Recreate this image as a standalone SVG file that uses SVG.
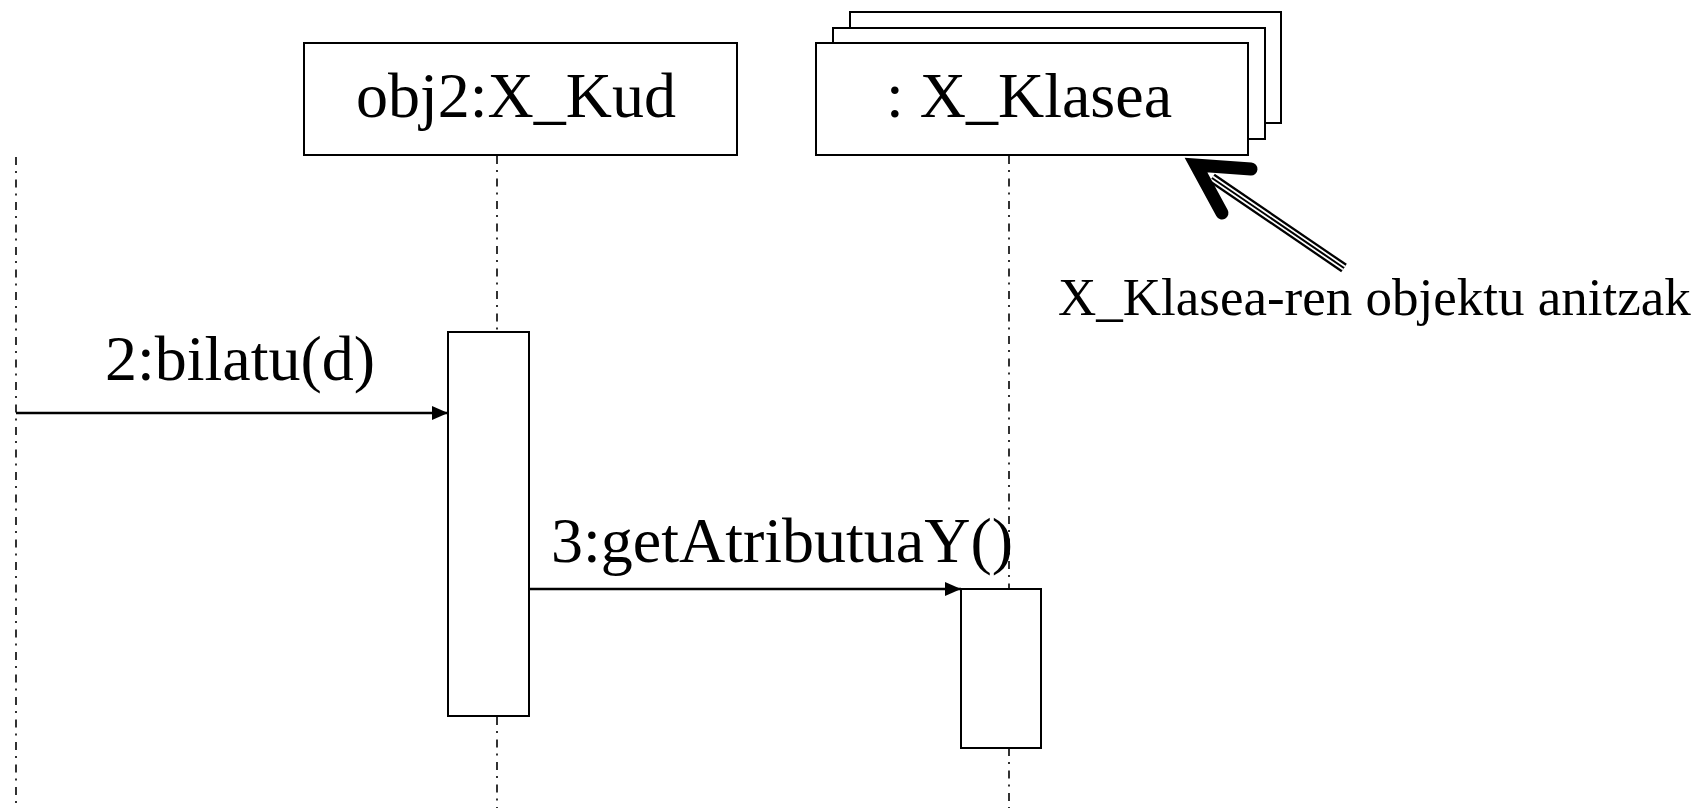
<svg xmlns="http://www.w3.org/2000/svg" width="1702" height="808" viewBox="0 0 1702 808">
<style>
.box{fill:#fff;stroke:#000;stroke-width:2}
.life{stroke:#000;stroke-width:1.6;stroke-dasharray:8 6 2 6.5;fill:none}
.msg{stroke:#000;stroke-width:2.5;fill:none}
.t{font-family:"Liberation Serif","Times New Roman",serif;font-size:64px;fill:#000}
.n{font-family:"Liberation Serif","Times New Roman",serif;font-size:53px;fill:#000}
</style>
<defs>
<marker id="ah" markerWidth="16" markerHeight="14" refX="16" refY="7" orient="auto" markerUnits="userSpaceOnUse">
<path d="M0,0 L16,7 L0,14 Z" fill="#000"/>
</marker>
</defs>
<rect width="1702" height="808" fill="#fff"/>
<g id="lifelines">
<line class="life" x1="16" y1="157" x2="16" y2="808"/>
<line class="life" x1="497" y1="156" x2="497" y2="331"/>
<line class="life" x1="497" y1="717" x2="497" y2="808"/>
<line class="life" x1="1009" y1="156" x2="1009" y2="588"/>
<line class="life" x1="1009" y1="748" x2="1009" y2="808"/>
</g>
<g id="obj2">
<rect class="box" x="304" y="43" width="433" height="112"/>
<text class="t" x="516" y="117" text-anchor="middle">obj2:X_Kud</text>
</g>
<g id="xklasea">
<rect class="box" x="850" y="12" width="431" height="111"/>
<rect class="box" x="833" y="28" width="432" height="111"/>
<rect class="box" x="816" y="43" width="432" height="112"/>
<text class="t" x="1029" y="117" text-anchor="middle">: X_Klasea</text>
</g>
<g id="act1">
<rect class="box" x="448" y="332" width="81" height="384"/>
</g>
<g id="act2">
<rect class="box" x="961" y="589" width="80" height="159"/>
</g>
<g id="connectors">
<line class="msg" x1="16" y1="413" x2="448" y2="413" marker-end="url(#ah)"/>
<line class="msg" x1="529" y1="589" x2="961" y2="589" marker-end="url(#ah)"/>
</g>
<g id="labels">
<text class="t" x="105" y="380">2:bilatu(d)</text>
<text class="t" x="551" y="562">3:getAtributuaY()</text>
</g>
<g id="note">
<line x1="1212" y1="178" x2="1344" y2="268" stroke="#000" stroke-width="10"/>
<line x1="1212" y1="178" x2="1344" y2="268" stroke="#fff" stroke-width="5.5"/>
<line x1="1212" y1="178" x2="1344" y2="268" stroke="#000" stroke-width="2"/>
<polyline points="1251,169 1196,165 1222,213" fill="none" stroke="#000" stroke-width="13" stroke-linecap="round" stroke-linejoin="miter" stroke-miterlimit="10"/>
<text class="n" x="1058" y="315">X_Klasea-ren objektu anitzak</text>
</g>
</svg>
